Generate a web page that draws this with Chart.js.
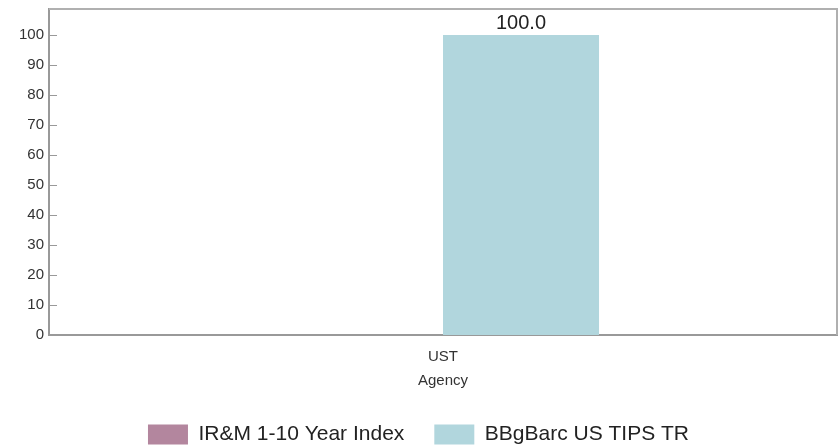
<!DOCTYPE html>
<html>
<head>
<meta charset="utf-8">
<script src="https://cdn.jsdelivr.net/npm/chart.js@4/dist/chart.umd.min.js"></script>
<style>
  html, body { margin: 0; padding: 0; background: #fff; }
  #wrap { width: 838px; height: 448px; position: relative; }
</style>
</head>
<body>
<div id="wrap"><canvas id="c"></canvas></div>
<script>
// Sector allocation, percent of portfolio
const categories = [["UST", "Agency"]];
const seriesNames = ["IR&M 1-10 Year Index", "BBgBarc US TIPS TR"];
const irmValues = [0];
const tipsValues = [100.0];
const yTicks = [0, 10, 20, 30, 40, 50, 60, 70, 80, 90, 100];

const FONT = "'Liberation Sans', Arial, sans-serif";

// Frame around the plot plus short inward tick marks on the value axis
const framePlugin = {
  id: 'frame',
  afterDraw(chart) {
    const { ctx, chartArea: a, scales } = chart;
    ctx.save();
    ctx.strokeStyle = '#b0b0b0';
    ctx.lineWidth = 2;
    ctx.beginPath();
    ctx.moveTo(a.left, a.top);
    ctx.lineTo(a.right, a.top);
    ctx.lineTo(a.right, a.bottom);
    ctx.stroke();
    ctx.strokeStyle = '#999';
    ctx.lineWidth = 1;
    yTicks.forEach(v => {
      const y = Math.round(scales.y.getPixelForValue(v)) + 0.5;
      ctx.beginPath();
      ctx.moveTo(a.left, y);
      ctx.lineTo(a.left + 8, y);
      ctx.stroke();
    });
    ctx.restore();
  }
};

// Value labels above non-zero bars
const valueLabels = {
  id: 'valueLabels',
  afterDatasetsDraw(chart) {
    const { ctx } = chart;
    ctx.save();
    ctx.font = '20px ' + FONT;
    ctx.fillStyle = '#222';
    ctx.textAlign = 'center';
    ctx.textBaseline = 'bottom';
    chart.data.datasets.forEach((ds, i) => {
      chart.getDatasetMeta(i).data.forEach((bar, j) => {
        const v = ds.data[j];
        if (v > 0) ctx.fillText(v.toFixed(1), bar.x, bar.y - 2);
      });
    });
    ctx.restore();
  }
};

new Chart(document.getElementById('c'), {
  type: 'bar',
  data: {
    labels: categories,
    datasets: [
      { label: seriesNames[0], data: irmValues, backgroundColor: '#b3869e' },
      { label: seriesNames[1], data: tipsValues, backgroundColor: '#b1d6dd' }
    ]
  },
  options: {
    responsive: true,
    maintainAspectRatio: false,
    animation: false,
    layout: { padding: { top: 9, right: 1, left: 0, bottom: -7 } },
    datasets: { bar: { categoryPercentage: 0.396, barPercentage: 1.0 } },
    plugins: {
      legend: {
        position: 'bottom',
        labels: {
          boxWidth: 40, boxHeight: 20, padding: 30,
          color: '#222',
          font: { size: 21, family: FONT }
        }
      },
      tooltip: { enabled: false },
      title: { display: false }
    },
    scales: {
      x: {
        grid: { display: false, drawTicks: false },
        border: { color: '#999', width: 2 },
        ticks: {
          color: '#333', padding: 10,
          font: { size: 15, family: FONT, lineHeight: 1.6 }
        },
        afterFit(s) { s.height = 59; s.paddingLeft = 0; s.paddingRight = 0; }
      },
      y: {
        min: 0, max: 108.7,
        grid: { display: false, drawTicks: false },
        border: { color: '#999', width: 2 },
        ticks: {
          stepSize: 10, color: '#333', padding: 5,
          font: { size: 15, family: FONT }
        },
        afterBuildTicks(s) { s.ticks = yTicks.map(v => ({ value: v })); },
        afterFit(s) { s.width = 49; s.paddingTop = 0; s.paddingBottom = 0; }
      }
    }
  },
  plugins: [framePlugin, valueLabels]
});
</script>
</body>
</html>
